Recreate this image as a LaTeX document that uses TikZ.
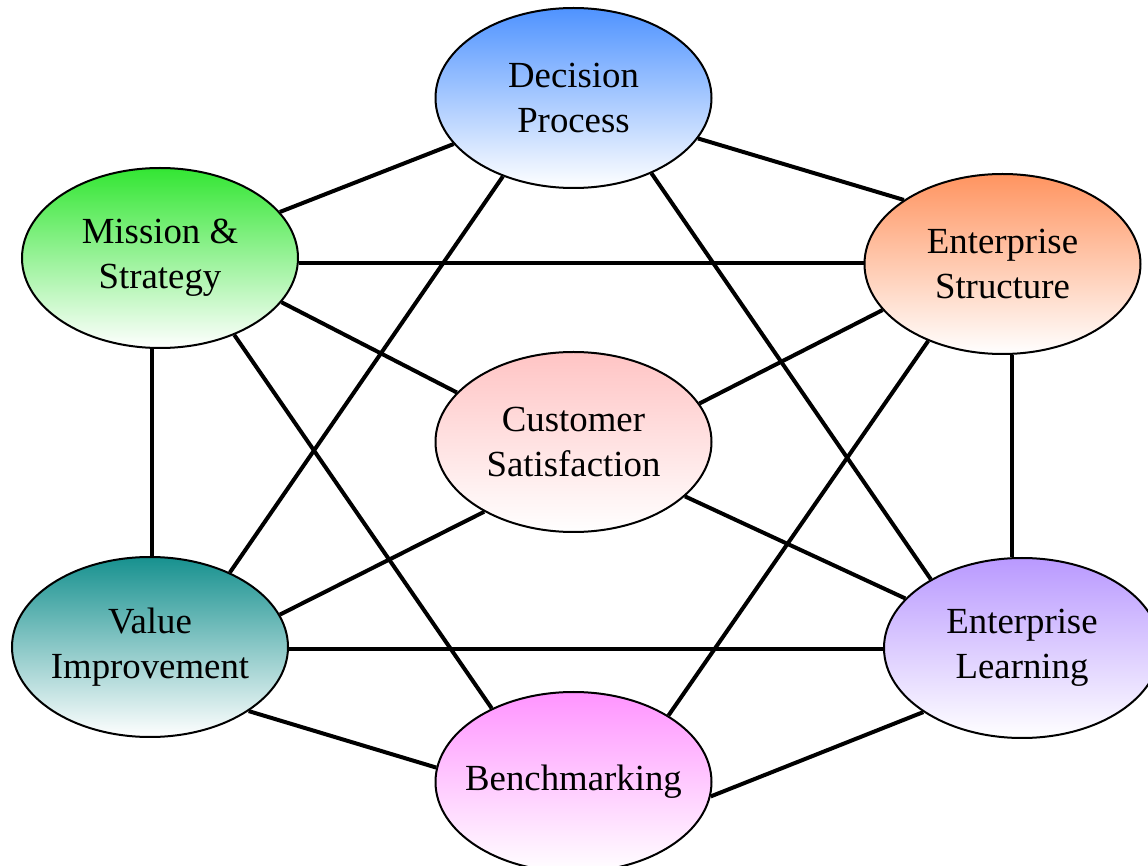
\documentclass[tikz,border=0pt]{standalone}
\usepackage{fontspec}
\setmainfont{Liberation Serif}
\usepackage{xcolor}
\usetikzlibrary{shapes.geometric}

\definecolor{decblue}{HTML}{4F93FF}
\definecolor{misgreen}{HTML}{33E633}
\definecolor{entorange}{HTML}{FF9460}
\definecolor{cuspink}{HTML}{FFC4C4}
\definecolor{valteal}{HTML}{17918F}
\definecolor{learnlilac}{HTML}{B999FF}
\definecolor{benchmagenta}{HTML}{FF94FF}

\begin{document}
\begin{tikzpicture}[
    x=0.5pt, y=-0.5pt,
    topicbox/.style={ellipse, draw, line width=1pt, minimum width=138pt, minimum height=90pt, inner xsep=-12pt, inner ysep=0pt, align=center, font=\fontsize{18.4}{22.5}\selectfont, bottom color=white},
    link/.style={line width=2pt, color=black}
]
\useasboundingbox (0,0) rectangle (1148,866);

\node[topicbox, top color=decblue] (dp) at (573.5,98) {Decision\\Process};
\node[topicbox, top color=misgreen] (ms) at (160,258) {Mission \&\\Strategy};
\node[topicbox, top color=entorange] (es) at (1002.5,264) {Enterprise\\Structure};
\node[topicbox, top color=cuspink] (cs) at (573.5,442) {Customer\\Satisfaction};
\node[topicbox, top color=valteal] (vi) at (150,647) {Value\\Improvement};
\node[topicbox, top color=learnlilac] (el) at (1022,648) {Enterprise\\Learning};
\node[topicbox, top color=benchmagenta] (bm) at (573.5,782) {Benchmarking};

% links from the top node
\draw[link] (dp.-159.7) -- (ms.21.3);
\draw[link] (dp.-18.8) -- (es.147.3);
\draw[link] (dp.-132.6) -- (vi.43.8);
\draw[link] (dp.-44.4) -- (el.143.5);

% links from the upper pair
\draw[link] (ms.-2) -- (ms.-2 -| es.west);
\draw[link] (ms.-20.6) -- (cs.157.0);
\draw[link] ([xshift=1pt]vi.north) -- ([xshift=1pt]vi.north |- ms.south);
\draw[link] (ms.-46.5) -- (bm.138.1);
\draw[link] (es.-159.9) -- (cs.17.1);
\draw[link] ([xshift=4.75pt]es.south) -- ([xshift=4.75pt]es.south |- el.north);
\draw[link] (es.-134.4) -- (bm.35.7);

% links from the centre and the lower pair
\draw[link] (cs.-142.0) -- (vi.14.4);
\draw[link] (cs.-26.3) -- (el.157.7);
\draw[link] (vi.-1) -- (vi.-1 -| el.west);
\draw[link] (vi.-33.6) -- (bm.174.9);
\draw[link] (el.-147.4) -- (bm.-6.8);

\end{tikzpicture}
\end{document}
